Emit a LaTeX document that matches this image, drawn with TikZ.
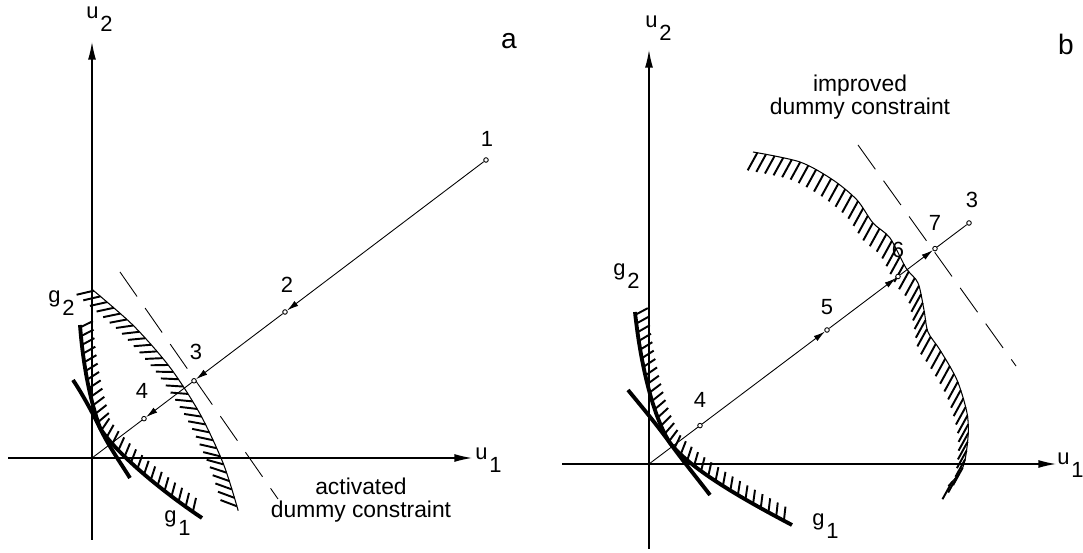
\documentclass[tikz,border=0pt]{standalone}
\usepackage{fontspec}
\setmainfont{Liberation Sans}
\usetikzlibrary{arrows.meta, decorations.markings, math}

\tikzset{
  uaxis/.style={line width=0.7pt, -{Latex[length=10pt,width=4.5pt]}},
  pathline/.style={line width=0.5pt},
  iterarrow/.style={line width=0.5pt, -{Latex[length=6.5pt,width=3.5pt]}},
  stepdot/.style={circle, draw, fill=white, line width=0.5pt, inner sep=0pt, minimum size=2.6pt},
  constraint/.style={line width=2.2pt},
  dummyline/.style={line width=0.5pt, dash pattern=on 17pt off 8pt},
  lbl/.style={font=\fontsize{12.5}{13.5}\selectfont, inner sep=0pt},
  title/.style={font=\fontsize{16}{16}\selectfont, inner sep=0pt},
  caption/.style={font=\fontsize{13}{13.5}\selectfont, inner sep=0pt, align=center},
  % hatching turned with the boundary
  hatch/.style={postaction={decorate, decoration={markings,
      mark=between positions 0.01 and 0.99 step 5pt with {\draw[line width=1.1pt] (0,0) -- (#1);}}}},
  % hatching at one fixed slope
  hatchfix/.style={postaction={decorate, decoration={markings,
      mark=between positions 0.01 and 0.99 step 5pt with {\pgftransformresetnontranslations
        \draw[line width=1.1pt] (0,0) -- (#1);}}}},
}
\newcommand{\idx}[2]{#1\kern1pt\raisebox{-7pt}{#2}}

\begin{document}
\begin{tikzpicture}[x=0.02cm, y=-0.02cm]
\useasboundingbox (0,0) rectangle (1083,553);

% ---- a ----
\coordinate (Oa) at (92,458);
\coordinate (u2a) at (92,42);
\coordinate (u1a) at (472,458);
\draw[uaxis] (92,540) -- (u2a);
\draw[uaxis] (8,458) -- (u1a);

% constraints g1, g2
\draw[constraint, hatch={-3pt,7.5pt}] (80,325) .. controls (83,365) and (90,400) .. (100,428)
  .. controls (115,452) and (160,490) .. (202,518);
\draw[constraint] (73,380) .. controls (83,395) and (92,412) .. (100,428)
  .. controls (108,445) and (120,462) .. (130,478);

% activated dummy constraint
\draw[line width=0.6pt, hatch={-6pt,-8pt}] plot[smooth] coordinates {(91.6,289) (133.4,325.6) (170,367.4) (200.1,414.1) (223.6,464.4) (238.2,510.7)};
\coordinate (da1) at (120,272);
\coordinate (da2) at (278,499);
\draw[dummyline] (da1) -- (da2);

% iteration points
\node[stepdot] (a1) at (486,160) {};
\node[stepdot] (a2) at (285,312) {};
\node[stepdot] (a3) at (194,380.8) {};
\node[stepdot] (a4) at (144,418.7) {};
\draw[iterarrow] (a1) -- (a2);
\draw[iterarrow] (a2) -- (a3);
\draw[iterarrow] (a3) -- (a4);
\draw[pathline] (a4) -- (Oa);

\node[lbl] (la1) at (487,139) {1};
\node[lbl] (la2) at (287,285) {2};
\node[lbl] (la3) at (196,352) {3};
\node[lbl] (la4) at (142,391) {4};
\node[title] (tita) at (509,41) {a};
\node[lbl, anchor=base west] (lu2a) at (86,19) {\idx{u}{2}};
\node[lbl, anchor=base west] (lu1a) at (475,460) {\idx{u}{1}};
\node[lbl, anchor=base west] (lg2a) at (48,303) {\idx{g}{2}};
\node[lbl, anchor=base west] (lg1a) at (164,523) {\idx{g}{1}};
\node[caption] (capa) at (361,500) {activated\\dummy constraint};

% ---- b ----
\coordinate (Ob) at (649,464);
\coordinate (u2b) at (649,50);
\coordinate (u1b) at (1056,464);
\draw[uaxis] (649,549) -- (u2b);
\draw[uaxis] (562,464) -- (u1b);

% constraints g1, g2
\draw[constraint, hatch={-3pt,7.5pt}] (635,312) .. controls (640,360) and (652,415) .. (670,443)
  .. controls (690,468) and (735,495) .. (792,525);
\draw[constraint] (628,390) .. controls (642,407) and (657,425) .. (670,443)
  .. controls (683,461) and (697,478) .. (710,495);

% real constraint and improved dummy constraint
\draw[line width=0.6pt, hatchfix={-5.5pt,-10pt}] plot[smooth] coordinates {(753,152) (800,162) (833,180) (857,200) (873,223) (890,238) (906,268) (918,283) (924,310) (928,332) (940,350) (957,380) (967,413) (968,437) (963,467) (948,486)};
\coordinate (db1) at (858,145);
\coordinate (db2) at (1016,366);
\draw[dummyline] (db1) -- (db2);

% iteration points
\node[stepdot] (b3) at (969,223) {};
\node[stepdot] (b4) at (700,425.6) {};
\node[stepdot] (b5) at (827,330) {};
\node[stepdot] (b6) at (898,276.5) {};
\node[stepdot] (b7) at (935,248.6) {};
\draw[pathline] (Ob) -- (b4);
\draw[iterarrow] (b4) -- (b5);
\draw[iterarrow] (b5) -- (b6);
\draw[iterarrow] (b6) -- (b7);
\draw[pathline] (b7) -- (b3);

\node[lbl] (lb3) at (972,200) {3};
\node[lbl] (lb4) at (700,400) {4};
\node[lbl] (lb5) at (827,307) {5};
\node[lbl] (lb6) at (898,250) {6};
\node[lbl] (lb7) at (935,223) {7};
\node[title] (titb) at (1066,44) {b};
\node[lbl, anchor=base west] (lu2b) at (645,28) {\idx{u}{2}};
\node[lbl, anchor=base west] (lu1b) at (1057,465) {\idx{u}{1}};
\node[lbl, anchor=base west] (lg2b) at (613,276) {\idx{g}{2}};
\node[lbl, anchor=base west] (lg1b) at (812,526) {\idx{g}{1}};
\node[caption] (capb) at (860,97) {improved\\dummy constraint};
\end{tikzpicture}
\end{document}
